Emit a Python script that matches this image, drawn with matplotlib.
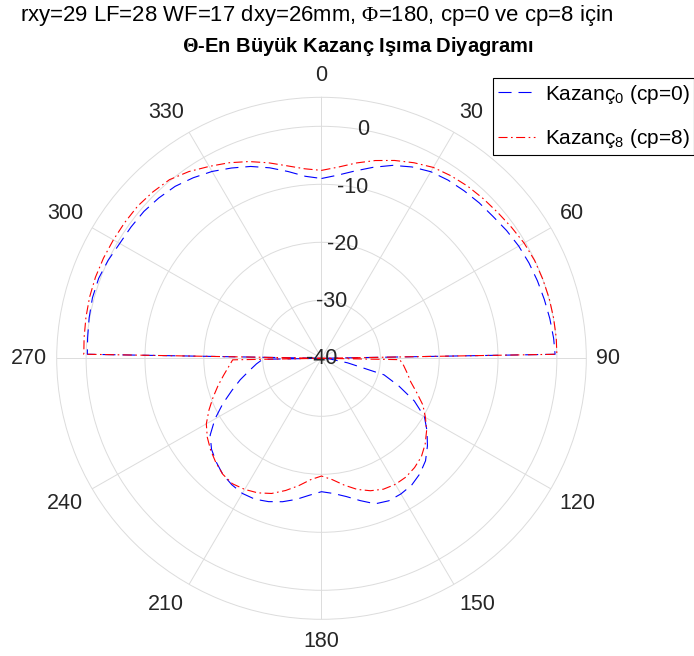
import numpy as np
import matplotlib
matplotlib.use("Agg")
import matplotlib.pyplot as plt

plt.rcParams['font.family'] = ['Liberation Sans', 'DejaVu Sans']
plt.rcParams['mathtext.fontset'] = 'custom'
plt.rcParams['mathtext.rm'] = 'Liberation Serif'
plt.rcParams['mathtext.bf'] = 'Liberation Serif:bold'
plt.rcParams['mathtext.sf'] = 'Liberation Sans'
plt.rcParams['lines.scale_dashes'] = False

# ---------------- data ----------------
theta_deg = [0, 5, 10, 15, 20, 25, 30, 35, 40, 45, 50, 55, 60, 65, 70, 75, 80, 85, 89,
             90, 91, 95, 100, 105, 110, 115, 120, 125, 130, 135, 140, 145, 150, 155,
             160, 165, 170, 175, 180, 185, 190, 195, 200, 205, 210, 215, 220, 225,
             230, 235, 240, 245, 250, 255, 260, 265, 269, 270, 271, 275, 280, 285,
             290, 295, 300, 305, 310, 315, 320, 325, 330, 335, 340, 345, 350, 355, 360]

gain_cp0 = [-9.0, -8.3, -7.2, -5.9, -4.6, -3.6, -2.85, -2.5, -2.3, -2.1, -1.95, -1.6, -1.3,
            -1.1, -0.95, -0.8, -0.6, -0.4, -0.3,
            -40, -40, -38.5, -35.5, -29.0, -26.0, -22.6, -19.8, -18.1, -16.5, -15.0, -14.0,
            -13.3, -13.0, -12.9, -13.3, -14.6, -15.8, -16.6, -17.0, -16.3, -15.3, -14.4,
            -13.7, -13.2, -13.1, -13.4, -13.9, -14.7, -15.6, -16.9, -19.1, -21.5, -23.8,
            -25.7, -27.5, -28.9, -30.0, -40, -0.2, -0.1, 0.1, 0.3, 0.3, 0.0, -0.4, -0.5,
            -0.6, -0.9, -1.3, -2.0, -2.8, -3.8, -4.8, -6.0, -7.3, -8.5, -9.0]

gain_cp8 = [-7.6, -6.9, -5.8, -4.7, -3.7, -2.8, -2.0, -1.6, -1.3, -1.1, -0.9, -0.6, -0.25,
            -0.05, 0.0, 0.05, 0.05, 0.05, 0.0,
            -40, -26.7, -26.0, -25.2, -24.3, -22.8, -21.0, -19.6, -18.2, -17.0, -16.0, -15.4,
            -15.0, -14.9, -15.1, -15.7, -16.6, -17.8, -19.0, -19.7, -19.0, -17.7, -16.4,
            -15.2, -14.4, -13.9, -13.6, -13.9, -14.6, -15.4, -16.3, -17.4, -18.9, -20.4,
            -21.8, -23.1, -24.2, -24.9, -40, 0.4, 0.5, 0.65, 0.8, 0.88, 0.88, 0.84, 0.82,
            0.8, 0.55, 0.2, -0.7, -1.8, -2.8, -3.9, -5.1, -6.3, -7.2, -7.6]

r_ticks = [-40, -30, -20, -10, 0]
r_lim = [-40, 5]
theta_ticks = [0, 30, 60, 90, 120, 150, 180, 210, 240, 270, 300, 330]

label_cp0 = 'Kazanç$_{\\mathsf{0}}$ (cp=0)'
label_cp8 = 'Kazanç$_{\\mathsf{8}}$ (cp=8)'
title1 = 'rxy=29 LF=28 WF=17 dxy=26mm, $\\Phi$=180, cp=0 ve cp=8 için'
title2 = '$\\mathbf{\\Theta}$-En Büyük Kazanç Işıma Diyagramı'

FS = 15.5
TXT = '#262626'

# ---------------- figure ----------------
W, H = 694, 656
fig = plt.figure(figsize=(W / 100, H / 100), dpi=100)
cx, cy = 321.5, 358.3
rx, ry = 264.8, 261.0
ax = fig.add_axes([(cx - rx) / W, (H - cy - ry) / H, 2 * rx / W, 2 * ry / H],
                  projection='polar')
ax.set_aspect('auto')
ax.set_theta_zero_location('N')
ax.set_theta_direction(-1)

th = np.deg2rad(theta_deg)
ax.plot(th, gain_cp0, color=(0, 0, 1), lw=0.8, ls=(0, (9.4, 5.0)), label=label_cp0)
ax.plot(th, gain_cp8, color=(1, 0, 0), lw=0.8, ls=(0, (6.5, 2.5, 1.2, 2.5)), label=label_cp8)

ax.set_rlim(r_lim)
ax.set_rticks(r_ticks)
ax.set_yticklabels([])
ax.set_thetagrids(theta_ticks, [''] * len(theta_ticks))
ax.grid(True, color='#dcdcdc', lw=0.7)
ax.spines['polar'].set_color('#dcdcdc')
ax.spines['polar'].set_linewidth(0.7)

# theta labels: anchored on a circle outside the axes, corner-aligned (MATLAB style)
r_anchor = 275.0
digit_w = 0.556 * FS * 100 / 72
half_h = 0.358 * FS * 100 / 72
for t in theta_ticks:
    s = str(t)
    a = np.deg2rad(t)
    sa, ca = np.sin(a), np.cos(a)
    hw = len(s) * digit_w / 2
    sx = 0 if abs(sa) < 1e-6 else np.sign(sa)
    sy = 0 if abs(ca) < 1e-6 else np.sign(ca)
    px = r_anchor * sa + sx * hw
    py = r_anchor * ca + sy * half_h
    ax.text(0.5 + px / (2 * rx), 0.5 + py / (2 * ry), s, transform=ax.transAxes,
            ha='center', va='center', fontsize=FS, color=TXT, clip_on=False)

for rv in r_ticks:
    ax.text(np.deg2rad(10.2), rv, str(rv), ha='center', va='center', fontsize=FS,
            color=TXT, zorder=5)

fig.text(316 / W, 1 - 16 / H, title1, ha='center', va='center', fontsize=15.9, color='black')
fig.text(358 / W, 1 - 46 / H, title2, ha='center', va='center', fontsize=14.5,
         fontweight='bold', color='black')

leg = fig.legend(loc='upper left', bbox_to_anchor=(493 / W, 1 - 78 / H), fontsize=15,
                 frameon=True, fancybox=False, edgecolor='black', framealpha=1,
                 handlelength=1.78, handletextpad=0.48, borderpad=0.22, labelspacing=1.05,
                 borderaxespad=0)
leg.get_frame().set_linewidth(0.8)

fig.savefig('out.png', dpi=100)
